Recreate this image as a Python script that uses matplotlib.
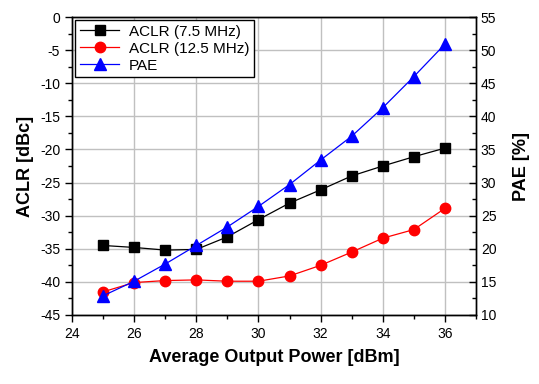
import matplotlib
matplotlib.use('Agg')
import matplotlib.pyplot as plt
from matplotlib.ticker import MultipleLocator

plt.rcParams['font.family'] = ['Liberation Sans', 'DejaVu Sans']
plt.rcParams['axes.unicode_minus'] = False

power = [25, 26, 27, 28, 29, 30, 31, 32, 33, 34, 35, 36]
aclr_75 = [-34.5, -34.8, -35.2, -35.1, -33.2, -30.6, -28.1, -26.1, -24.0, -22.5, -21.1, -19.8]
aclr_125 = [-41.5, -40.1, -39.8, -39.7, -39.9, -39.9, -39.1, -37.5, -35.5, -33.4, -32.1, -28.9]
pae = [12.9, 15.1, 17.7, 20.5, 23.3, 26.4, 29.7, 33.4, 37.0, 41.3, 46.0, 50.9]

fig = plt.figure(figsize=(5.39, 3.84), dpi=100)
ax1 = fig.add_axes([0.1336, 0.1797, 0.7495, 0.776])
ax2 = ax1.twinx()

l1, = ax1.plot(power, aclr_75, '-s', color='black', lw=0.9, ms=7, label='ACLR (7.5 MHz)')
l2, = ax1.plot(power, aclr_125, '-o', color='red', lw=0.9, ms=7.5, label='ACLR (12.5 MHz)')
l3, = ax2.plot(power, pae, '-^', color='blue', lw=0.9, ms=8.5, label='PAE')

ax1.set_xlim(24, 37)
ax1.set_ylim(-45, 0)
ax2.set_ylim(10, 55)

ax1.xaxis.set_major_locator(MultipleLocator(2))
ax1.xaxis.set_minor_locator(MultipleLocator(1))
ax1.yaxis.set_major_locator(MultipleLocator(5))
ax1.yaxis.set_minor_locator(MultipleLocator(2.5))
ax2.yaxis.set_major_locator(MultipleLocator(5))
ax2.yaxis.set_minor_locator(MultipleLocator(2.5))

ax1.grid(True, which='major', color='#c0c0c0', lw=1)
ax1.set_axisbelow(True)

ax1.tick_params(which='major', direction='out', length=5, width=1, labelsize=10)
ax1.tick_params(which='minor', direction='out', length=3, width=1)
ax2.tick_params(which='major', direction='in', length=5, width=1, labelsize=10)
ax2.tick_params(which='minor', direction='in', length=3, width=1)

for ax in (ax1, ax2):
    for s in ax.spines.values():
        s.set_linewidth(1)

ax1.set_xlabel('Average Output Power [dBm]', fontsize=13, fontweight='bold', labelpad=6)
ax1.set_ylabel('ACLR [dBc]', fontsize=13, fontweight='bold', labelpad=4)
ax2.set_ylabel('PAE [%]', fontsize=13, fontweight='bold', labelpad=12)

leg = ax2.legend(handles=[l1, l2, l3], loc='upper left', fontsize=11, fancybox=False,
                 framealpha=1, edgecolor='black', borderaxespad=0.2, handlelength=2.6,
                 labelspacing=0.2, borderpad=0.3, handletextpad=0.6)
leg.get_frame().set_linewidth(1)

fig.savefig('out.png', dpi=100)
